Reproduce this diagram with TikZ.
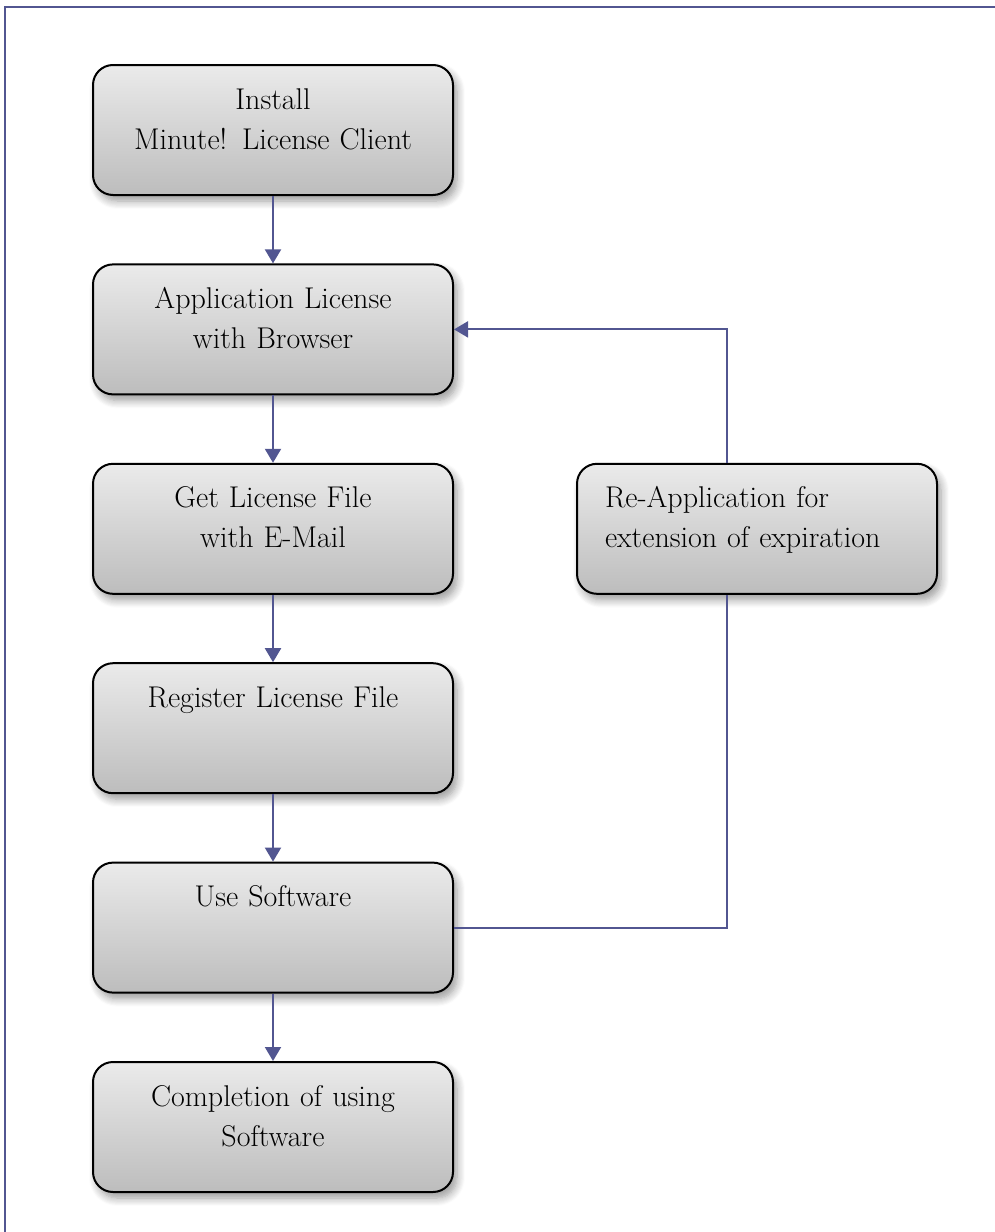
\documentclass[tikz,border=0pt]{standalone}
\usetikzlibrary{positioning, arrows.meta, shadows.blur}
\definecolor{linkblue}{RGB}{82,86,145}
\tikzset{>={Triangle[width=8pt,length=7pt]}}
\tikzset{
  flowbox/.style={draw=black, line width=1pt, rounded corners=10pt,
    top color=black!8, bottom color=black!26,
    text width=152pt, align=center, inner xsep=14pt, inner ysep=0pt,
    text height=22pt, text depth=43pt,
    blur shadow={shadow xshift=2pt, shadow yshift=-3pt, shadow blur radius=4pt, shadow blur steps=8, shadow opacity=40},
    font=\fontsize{15}{20}\selectfont},
  flowline/.style={draw=linkblue, line width=1pt}
}

\begin{document}
\begin{tikzpicture}[node distance=33.7pt]
    \useasboundingbox (0,0) rectangle (497.5pt,-616pt);
    \draw[flowline] (2.5pt,-616pt) -- (2.5pt,-3.5pt) -- (497.5pt,-3.5pt);
    % main flow
    \node[flowbox] (install) at (136.5pt,-65pt) {Install\\Minute! License Client};
    \node[flowbox, below=of install] (apply) {Application License\\with Browser};
    \node[flowbox, below=of apply] (getfile) {Get License File\\with E-Mail};
    \node[flowbox, below=of getfile] (register) {Register License File};
    \node[flowbox, below=of register] (use) {Use Software};
    \node[flowbox, below=of use] (finish) {Completion of using\\Software};
    % renewal
    \node[flowbox, align=left, right=61pt of getfile] (reapply) {Re-Application for\\extension of expiration};
    \foreach \a/\b in {install/apply, apply/getfile, getfile/register, register/use, use/finish}
        \draw[flowline, ->] (\a) -- (\b);
    \draw[flowline] (use.east) -| ([xshift=-15pt]reapply.south);
    \draw[flowline, ->] ([xshift=-15pt]reapply.north) |- (apply.east);
\end{tikzpicture}
\end{document}
